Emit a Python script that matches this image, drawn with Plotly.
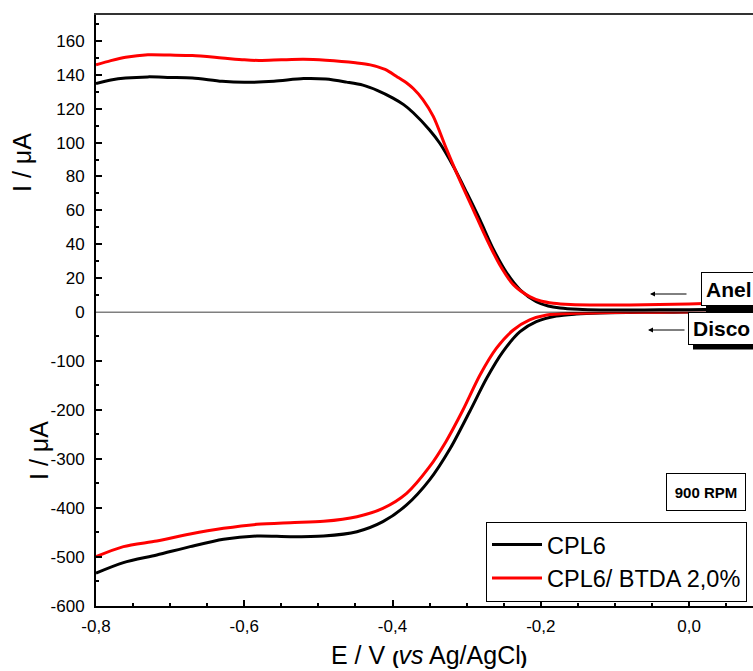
import plotly.graph_objects as go

# ---------------- data ----------------
# Ring (top panel) currents, I / uA
ring_cpl6_E = [-0.80, -0.78, -0.76, -0.73, -0.70, -0.67, -0.63, -0.60, -0.56, -0.52, -0.49, -0.462,
               -0.44, -0.42, -0.40, -0.385, -0.372, -0.35, -0.336, -0.318, -0.30, -0.282, -0.264,
               -0.246, -0.228, -0.206, -0.19, -0.174, -0.15, -0.12, -0.08, -0.04, 0.0, 0.04, 0.086]
ring_cpl6_I = [135.0, 137.0, 138.2, 138.9, 138.6, 138.3, 136.3, 135.7, 136.3, 137.9, 137.6, 135.8,
               134.0, 130.8, 126.5, 122.5, 117.7, 107.5, 99.5, 86.0, 70.5, 54.3, 37.0,
               23.0, 13.0, 5.9, 3.4, 2.2, 1.4, 1.0, 1.0, 1.1, 1.2, 1.3, 1.4]

ring_btda_E = [-0.80, -0.78, -0.76, -0.73, -0.70, -0.67, -0.63, -0.60, -0.58, -0.55, -0.52, -0.49,
               -0.45, -0.43, -0.41, -0.394, -0.38, -0.372, -0.359, -0.345, -0.327, -0.309, -0.291,
               -0.273, -0.255, -0.237, -0.215, -0.20, -0.183, -0.16, -0.12, -0.08, -0.04, 0.0, 0.04, 0.086]
ring_btda_I = [146.0, 148.5, 150.5, 152.0, 151.8, 151.5, 150.1, 149.0, 148.6, 149.0, 149.3, 148.7,
               147.2, 146.0, 143.3, 139.0, 135.0, 132.0, 125.5, 115.5, 96.0, 77.5, 60.3,
               43.0, 27.5, 16.0, 8.9, 6.3, 5.0, 4.3, 4.0, 4.0, 4.2, 4.6, 5.2, 5.8]

# Disk (bottom panel) currents, I / uA
disk_cpl6_E = [-0.80, -0.763, -0.718, -0.673, -0.628, -0.583, -0.538, -0.493, -0.448, -0.413, -0.381,
               -0.35, -0.322, -0.296, -0.273, -0.251, -0.228, -0.206, -0.179, -0.152, -0.12, -0.08,
               -0.04, 0.0, 0.04, 0.086]
disk_cpl6_I = [-533.0, -511.6, -496.0, -479.0, -464.0, -457.3, -458.7, -457.3, -448.5, -428.1, -394.0,
               -343.0, -278.5, -203.9, -135.8, -81.5, -40.8, -20.4, -8.8, -4.7, -2.5, -1.5,
               -1.0, -0.8, -0.6, -0.5]

disk_btda_E = [-0.80, -0.763, -0.718, -0.673, -0.628, -0.583, -0.538, -0.493, -0.448, -0.413, -0.381,
               -0.35, -0.328, -0.305, -0.282, -0.26, -0.237, -0.215, -0.192, -0.152, -0.12, -0.08,
               -0.04, 0.0, 0.04, 0.086]
disk_btda_I = [-499.5, -479.0, -467.5, -453.2, -441.7, -433.5, -430.1, -427.4, -417.9, -400.9, -370.3,
               -316.0, -265.0, -200.4, -129.0, -74.7, -37.3, -16.9, -6.7, -3.3, -2.0, -1.3,
               -0.9, -0.7, -0.5, -0.4]

series_names = ["CPL6", "CPL6/ BTDA 2,0%"]
series_colors = ["#000000", "#ff0000"]

x_tickvals = [-0.8, -0.6, -0.4, -0.2, 0.0]
x_ticktext = ["-0,8", "-0,6", "-0,4", "-0,2", "0,0"]
top_tickvals = [0, 20, 40, 60, 80, 100, 120, 140, 160]
top_ticktext = ["0", "20", "40", "60", "80", "100", "120", "140", "160"]
bot_tickvals = [-600, -500, -400, -300, -200, -100]
bot_ticktext = ["-600", "-500", "-400", "-300", "-200", "-100"]

# ---------------- figure ----------------
W, H = 753, 671
FONT = "Arial, Liberation Sans, sans-serif"

def px(x):
    return x / W

def py(y):
    return 1 - y / H

fig = go.Figure()

LINE = dict(width=3, shape="spline", smoothing=0.8)

# bottom panel (disk)
fig.add_trace(go.Scatter(x=disk_cpl6_E, y=disk_cpl6_I, mode="lines", name=series_names[0],
                         line=dict(color=series_colors[0], **LINE), xaxis="x", yaxis="y"))
fig.add_trace(go.Scatter(x=disk_btda_E, y=disk_btda_I, mode="lines", name=series_names[1],
                         line=dict(color=series_colors[1], **LINE), xaxis="x", yaxis="y"))
# top panel (ring)
fig.add_trace(go.Scatter(x=ring_cpl6_E, y=ring_cpl6_I, mode="lines", name=series_names[0],
                         line=dict(color=series_colors[0], **LINE),
                         xaxis="x2", yaxis="y2", showlegend=False))
fig.add_trace(go.Scatter(x=ring_btda_E, y=ring_btda_I, mode="lines", name=series_names[1],
                         line=dict(color=series_colors[1], **LINE),
                         xaxis="x2", yaxis="y2", showlegend=False))

x_lo = -0.8
x_hi = 0.0863
dom_x = [px(96), 1.0]
y_split = py(311.7)

tickfont = dict(family=FONT, size=17, color="black")

fig.update_layout(
    width=W, height=H,
    margin=dict(l=0, r=0, t=0, b=0, autoexpand=False),
    paper_bgcolor="white", plot_bgcolor="white",
    font=dict(family=FONT, color="black"),
    xaxis=dict(domain=dom_x, range=[x_lo, x_hi], anchor="y", automargin=False,
               showline=True, linecolor="black", linewidth=2,
               ticks="inside", ticklen=6, tickwidth=1.5, tickcolor="black",
               tickmode="array", tickvals=x_tickvals, ticktext=x_ticktext,
               minor=dict(ticks="inside", ticklen=3, tickwidth=1.5, tickcolor="black",
                          dtick=0.05, tick0=-0.8),
               showgrid=False, zeroline=False, tickfont=tickfont, ticklabelstandoff=4),
    xaxis2=dict(domain=dom_x, range=[x_lo, x_hi], anchor="y2", matches="x", side="top",
                automargin=False,
                showline=True, linecolor="#333333", linewidth=2,
                ticks="", showticklabels=False, showgrid=False, zeroline=False),
    yaxis=dict(domain=[py(606), y_split], range=[-600, 0], anchor="x", automargin=False,
               showline=True, linecolor="black", linewidth=2,
               ticks="inside", ticklen=6, tickwidth=1.5, tickcolor="black",
               tickmode="array", tickvals=bot_tickvals, ticktext=bot_ticktext,
               minor=dict(ticks="inside", ticklen=3, tickwidth=1.5, tickcolor="black",
                          dtick=50, tick0=0),
               showgrid=False, zeroline=False, tickfont=tickfont, ticklabelstandoff=6),
    yaxis2=dict(domain=[y_split, py(15)], range=[0, 175.5], anchor="x2", automargin=False,
                showline=True, linecolor="black", linewidth=2,
                ticks="inside", ticklen=6, tickwidth=1.5, tickcolor="black",
                tickmode="array", tickvals=top_tickvals, ticktext=top_ticktext,
                minor=dict(ticks="inside", ticklen=3, tickwidth=1.5, tickcolor="black",
                           dtick=10, tick0=0),
                showgrid=False, zeroline=False, tickfont=tickfont, ticklabelstandoff=6),
    legend=dict(x=px(486), y=py(521.7), xanchor="left", yanchor="top",
                bordercolor="black", borderwidth=1, bgcolor="white",
                font=dict(family=FONT, size=23.5, color="black"),
                tracegroupgap=0, itemwidth=50),
    showlegend=True,
)

# zero line between panels
fig.add_shape(type="line", xref="x domain", x0=0, x1=1, yref="y", y0=0, y1=0,
              line=dict(color="black", width=1.6))

# shadows for the label boxes
fig.add_shape(type="rect", xref="paper", yref="paper", x0=px(706), x1=px(780),
              y0=py(312.3), y1=py(277), fillcolor="black", line=dict(width=0), layer="above")
fig.add_shape(type="rect", xref="paper", yref="paper", x0=px(693), x1=px(780),
              y0=py(349.5), y1=py(316.7), fillcolor="black", line=dict(width=0), layer="above")

annos = []
# axis titles
annos.append(dict(text="I / μA", xref="paper", yref="paper", x=px(22), y=py(163),
                  xanchor="center", yanchor="middle", textangle=-90, showarrow=False,
                  font=dict(family=FONT, size=25, color="black")))
annos.append(dict(text="I / μA", xref="paper", yref="paper", x=px(39), y=py(451),
                  xanchor="center", yanchor="middle", textangle=-90, showarrow=False,
                  font=dict(family=FONT, size=25, color="black")))
annos.append(dict(text="E / V <b><span style='font-size:19px'>(</span></b><i>vs</i> Ag/AgCl<b><span style='font-size:19px'>)</span></b>",
                  xref="paper", yref="paper", x=px(429), y=py(655),
                  xanchor="center", yanchor="middle", showarrow=False,
                  font=dict(family=FONT, size=25, color="black")))
# 900 RPM box
annos.append(dict(text="<b>900 RPM</b>", xref="paper", yref="paper", x=px(706), y=py(492.5),
                  xanchor="center", yanchor="middle", showarrow=False,
                  width=78, height=36, borderpad=0, bordercolor="black", borderwidth=1,
                  bgcolor="white", font=dict(family=FONT, size=15, color="black")))
# Anel / Disco boxes
annos.append(dict(text="<b>Anel</b>", xref="paper", yref="paper", x=px(701), y=py(272.3),
                  xanchor="left", yanchor="top", showarrow=False, align="left",
                  width=60, height=24.4, borderpad=4, bordercolor="black", borderwidth=1,
                  bgcolor="white", font=dict(family=FONT, size=21, color="black")))
annos.append(dict(text="<b>Disco</b>", xref="paper", yref="paper", x=px(688.3), y=py(311.7),
                  xanchor="left", yanchor="top", showarrow=False, align="left",
                  width=70, height=22.6, borderpad=4, bordercolor="black", borderwidth=1,
                  bgcolor="white", font=dict(family=FONT, size=21, color="black")))
# arrows
annos.append(dict(text="", xref="paper", yref="paper", x=px(650), y=py(294),
                  ax=38, ay=0, showarrow=True, arrowhead=2, arrowsize=1, arrowwidth=1,
                  arrowcolor="black", standoff=0, startstandoff=0))
annos.append(dict(text="", xref="paper", yref="paper", x=px(648), y=py(330),
                  ax=38, ay=0, showarrow=True, arrowhead=2, arrowsize=1, arrowwidth=1,
                  arrowcolor="black", standoff=0, startstandoff=0))
fig.update_layout(annotations=annos)

fig.write_html("out.html")
